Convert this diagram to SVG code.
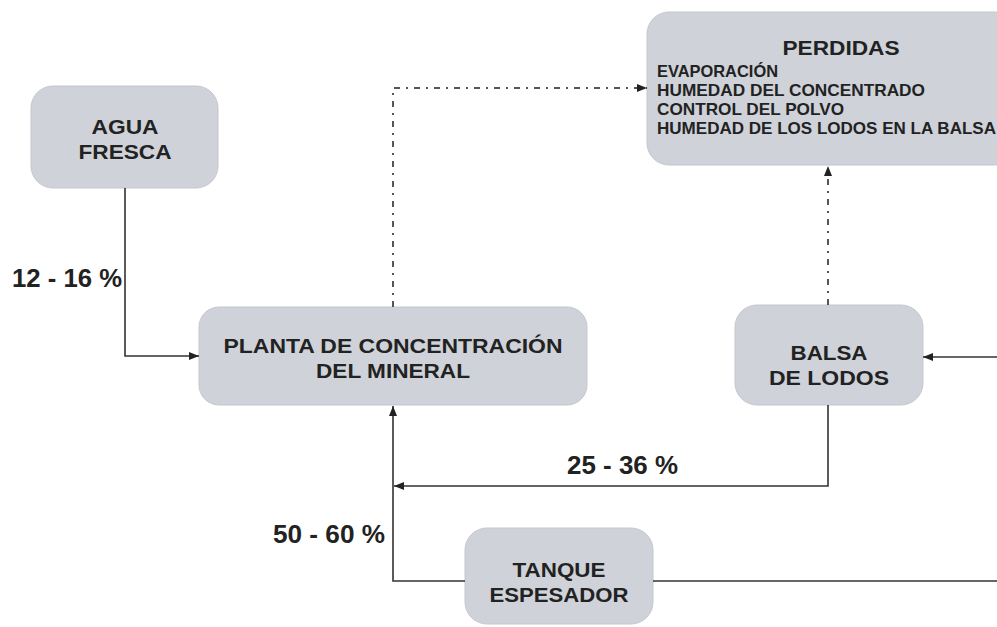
<svg xmlns="http://www.w3.org/2000/svg" width="997" height="627" viewBox="0 0 997 627">
  <defs>
    <marker id="arr" viewBox="0 0 10 8" refX="10" refY="4" markerWidth="10" markerHeight="8" markerUnits="userSpaceOnUse" orient="auto">
      <path d="M0,0 L10,4 L0,8 Z" fill="#222"/>
    </marker>
  </defs>
  <style>
    .box { fill: #cfd2d9; stroke: #c4c7ce; stroke-width: 1; }
    .t { font-family: "Liberation Sans", Arial, sans-serif; font-weight: bold; fill: #222; }
    .lbl { font-size: 21px; text-anchor: middle; }
    .title { font-size: 21px; text-anchor: middle; }
    .list { font-size: 16.5px; }
    .pct { font-size: 25px; }
    .line { fill: none; stroke: #333; stroke-width: 1.6; }
    .dash { fill: none; stroke: #555; stroke-width: 2; stroke-dasharray: 6 6 2 6; }
  </style>
  <rect width="997" height="627" fill="#fff"/>

  <g id="agua-fresca">
    <rect class="box" x="31" y="86" width="187" height="102" rx="22"/>
    <text class="t lbl" x="125" y="134" textLength="67" lengthAdjust="spacingAndGlyphs">AGUA</text>
    <text class="t lbl" x="125" y="159" textLength="93" lengthAdjust="spacingAndGlyphs">FRESCA</text>
  </g>

  <g id="perdidas">
    <rect class="box" x="647" y="12" width="370" height="153" rx="22"/>
    <text class="t title" x="841" y="55" textLength="117" lengthAdjust="spacingAndGlyphs">PERDIDAS</text>
    <text class="t list" x="657" y="77" textLength="121" lengthAdjust="spacingAndGlyphs">EVAPORACIÓN</text>
    <text class="t list" x="657" y="96" textLength="268" lengthAdjust="spacingAndGlyphs">HUMEDAD DEL CONCENTRADO</text>
    <text class="t list" x="657" y="115" textLength="187" lengthAdjust="spacingAndGlyphs">CONTROL DEL POLVO</text>
    <text class="t list" x="657" y="134" textLength="339" lengthAdjust="spacingAndGlyphs">HUMEDAD DE LOS LODOS EN LA BALSA</text>
  </g>

  <g id="planta">
    <rect class="box" x="199" y="307" width="388" height="98" rx="20"/>
    <text class="t lbl" x="393" y="353" textLength="339" lengthAdjust="spacingAndGlyphs">PLANTA DE CONCENTRACIÓN</text>
    <text class="t lbl" x="393" y="378" textLength="154" lengthAdjust="spacingAndGlyphs">DEL MINERAL</text>
  </g>

  <g id="balsa">
    <rect class="box" x="735" y="305" width="188" height="100" rx="22"/>
    <text class="t lbl" x="829" y="360" textLength="77" lengthAdjust="spacingAndGlyphs">BALSA</text>
    <text class="t lbl" x="829" y="385" textLength="120" lengthAdjust="spacingAndGlyphs">DE LODOS</text>
  </g>

  <g id="tanque">
    <rect class="box" x="465" y="528" width="188" height="96" rx="22"/>
    <text class="t lbl" x="559" y="577" textLength="93" lengthAdjust="spacingAndGlyphs">TANQUE</text>
    <text class="t lbl" x="559" y="602" textLength="139" lengthAdjust="spacingAndGlyphs">ESPESADOR</text>
  </g>

  <g id="connectors">
    <path class="line" d="M125,188 V356 H199" marker-end="url(#arr)"/>
    <path class="dash" d="M393,307 V88 H647" marker-end="url(#arr)"/>
    <path class="dash" d="M828,305 V166" marker-end="url(#arr)"/>
    <path class="line" d="M828,405 V486 H394" marker-end="url(#arr)"/>
    <path class="line" d="M465,581 H393 V406" marker-end="url(#arr)"/>
    <path class="line" d="M653,581 H997"/>
    <path class="line" d="M997,357 H923" marker-end="url(#arr)"/>
  </g>

  <g id="labels">
    <text class="t pct" x="12" y="287" textLength="110" lengthAdjust="spacingAndGlyphs">12 - 16 %</text>
    <text class="t pct" x="567" y="474" textLength="111" lengthAdjust="spacingAndGlyphs">25 - 36 %</text>
    <text class="t pct" x="273" y="543" textLength="112" lengthAdjust="spacingAndGlyphs">50 - 60 %</text>
  </g>
</svg>
